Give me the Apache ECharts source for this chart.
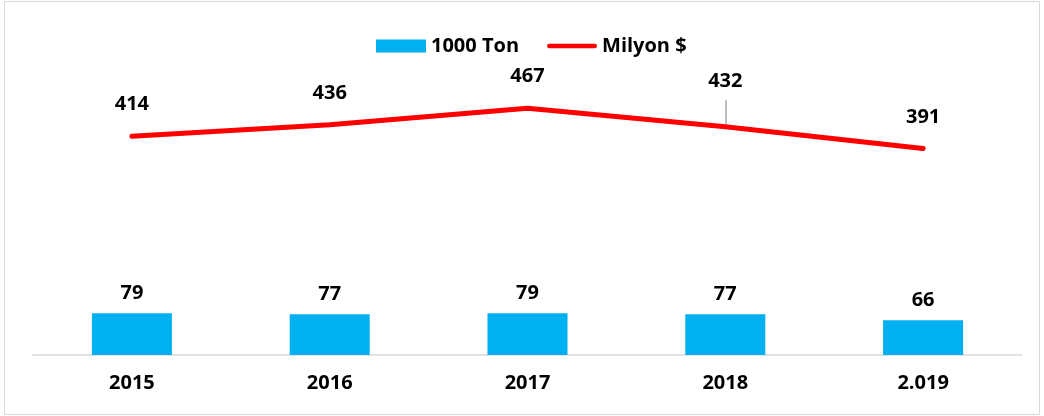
<!DOCTYPE html>
<html>
<head>
<meta charset="utf-8">
<script src="https://cdn.jsdelivr.net/npm/echarts@6/dist/echarts.min.js"></script>
<style>
html,body{margin:0;padding:0;background:#fff;}
#chart{width:1044px;height:416px;}
</style>
</head>
<body>
<div id="chart"></div>
<script>
var categories = ['2015', '2016', '2017', '2018', '2.019'];
var tonValues = [79, 77, 79, 77, 66];
var usdValues = [414, 436, 467, 432, 391];
var seriesNames = ['1000 Ton', 'Milyon $'];

var font = '"Open Sans", Lato, sans-serif';
var chart = echarts.init(document.getElementById('chart'), null, {renderer: 'canvas'});
chart.setOption({
  animation: false,
  backgroundColor: '#ffffff',
  graphic: [{
    type: 'rect',
    shape: {x: 4.5, y: 1.5, width: 1035, height: 413},
    style: {fill: 'none', stroke: '#D9D9D9', lineWidth: 1},
    silent: true
  }],
  legend: {
    top: 31,
    left: 371,
    itemGap: 28,
    itemWidth: 50,
    itemHeight: 13,
    itemTextGap: 6,
    textStyle: {fontFamily: font, fontWeight: 'bold', fontSize: 20, color: '#000'},
    data: [
      {name: seriesNames[0], icon: 'rect'},
      {name: seriesNames[1], icon: 'path://M2,4 L52,4 A2.5,2.5 0 0 1 52,9 L2,9 A2.5,2.5 0 0 1 2,4 Z', itemStyle: {color: '#FF0000', opacity: 1}}
    ]
  },
  grid: {left: 33, right: 22, top: 38, bottom: 61},
  xAxis: {
    type: 'category',
    data: categories,
    axisLine: {lineStyle: {color: '#D9D9D9', width: 1.5}},
    axisTick: {show: false},
    axisLabel: {fontFamily: font, fontWeight: 'bold', fontSize: 20, color: '#000', margin: 18}
  },
  yAxis: {
    type: 'value',
    min: 0,
    max: 600,
    show: false,
    splitLine: {show: false}
  },
  series: [
    {
      name: seriesNames[0],
      type: 'bar',
      data: tonValues,
      barWidth: 80,
      itemStyle: {color: '#00B0F0'},
      label: {show: true, position: 'top', distance: 10, fontFamily: font, fontWeight: 'bold', fontSize: 20, color: '#000'}
    },
    {
      name: seriesNames[1],
      type: 'line',
      data: usdValues.map(function (v, i) {
        if (i === 3) {
          return {value: v, label: {distance: 35}};
        }
        return v;
      }),
      symbol: 'circle',
      symbolSize: 1,
      showSymbol: true,
      lineStyle: {color: '#FF0000', width: 5, cap: 'round'},
      itemStyle: {color: 'rgba(255,0,0,0)'},
      label: {show: true, position: 'top', distance: 21, fontFamily: font, fontWeight: 'bold', fontSize: 20, color: '#000'},
      markLine: {
        silent: true,
        symbol: 'none',
        label: {show: false},
        lineStyle: {color: '#A6A6A6', width: 1.5, type: 'solid'},
        data: [[{coord: [categories[3], usdValues[3] + 5]}, {coord: [categories[3], usdValues[3] + 50]}]]
      }
    }
  ]
});
</script>
</body>
</html>
